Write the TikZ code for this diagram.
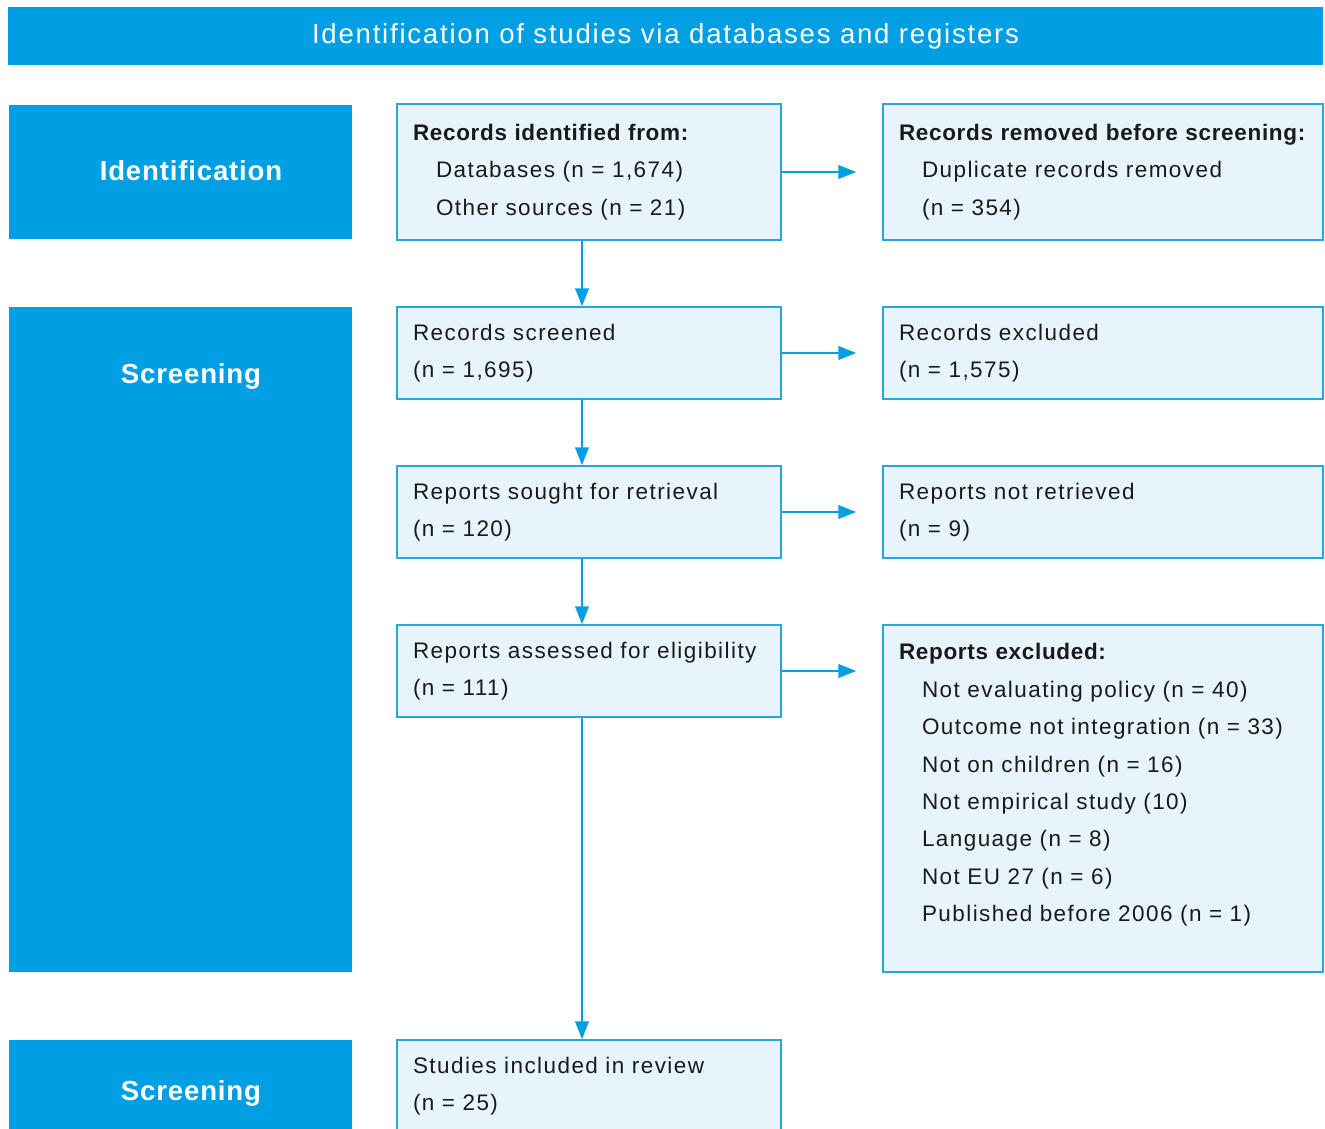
\documentclass[tikz,border=0pt]{standalone}
\usepackage{fontspec}
\setmainfont{Liberation Sans}[LetterSpace=6.4, BoldFeatures={LetterSpace=3}]
\usetikzlibrary{arrows.meta}

\definecolor{prismablue}{HTML}{009FE3}
\definecolor{boxfill}{HTML}{E8F4FC}
\definecolor{boxline}{HTML}{28A6E0}
\definecolor{ink}{HTML}{1A1A1A}

\tikzset{
  header/.style={fill=prismablue, text=white, minimum width=26.3cm, minimum height=1.16cm,
    font=\fontsize{15.7}{19}\selectfont},
  phase/.style={fill=prismablue, minimum width=6.86cm},
  phasetext/.style={text=white, font=\bfseries\fontsize{15.7}{18}\selectfont},
  midbox/.style={draw=boxline, line width=0.8pt, fill=boxfill, text=ink, minimum width=7.68cm,
    text width=7.04cm, inner xsep=0.32cm, align=left, font=\fontsize{12.8}{21.3}\selectfont},
  sidebox/.style={midbox, minimum width=8.8cm, text width=8.16cm},
  flow/.style={draw=prismablue, line width=1.4pt, -{Triangle[length=0.36cm,width=0.27cm]}}
}
\newcommand{\indentline}{\hspace*{0.46cm}}

\begin{document}
\begin{tikzpicture}

    \clip (0,0) rectangle (26.5,-22.58);
    \fill[white] (0,0) rectangle (26.5,-22.58);

    \node[header] (title) at (13.31,-0.72) {Identification of studies via databases and registers};

    % phases on the left
    \node[phase, minimum height=2.68cm] (idphase) at (3.61,-3.44) {};
    \node[phase, minimum height=13.3cm] (scrphase) at (3.61,-12.79) {};
    \node[phase, minimum height=2.0cm] (incphase) at (3.61,-21.8) {};
    \node[phasetext] (idlabel) at (3.82,-3.42) {Identification};
    \node[phasetext] (scrlabel) at (3.82,-7.52) {Screening};
    \node[phasetext] (inclabel) at (3.82,-21.86) {Screening};

    % main column
    \node[midbox, minimum height=2.72cm] (records) at (11.78,-3.44) {\textbf{Records identified from:}\\
        \indentline Databases (n = 1,674)\\
        \indentline Other sources (n = 21)};
    \node[midbox, minimum height=1.84cm] (screened) at (11.78,-7.06) {Records screened\\(n = 1,695)};
    \node[midbox, minimum height=1.84cm] (sought) at (11.78,-10.24) {Reports sought for retrieval\\(n = 120)};
    \node[midbox, minimum height=1.84cm] (assessed) at (11.78,-13.42) {Reports assessed for eligibility\\(n = 111)};
    \node[midbox, minimum height=1.84cm] (included) at (11.78,-21.72) {Studies included in review\\(n = 25)};

    % side column
    \node[sidebox, minimum height=2.72cm] (removed) at (22.06,-3.44) {\textbf{Records removed before screening:}\\
        \indentline Duplicate records removed\\
        \indentline (n = 354)};
    \node[sidebox, minimum height=1.84cm] (excluded) at (22.06,-7.06) {Records excluded\\(n = 1,575)};
    \node[sidebox, minimum height=1.84cm] (notretr) at (22.06,-10.24) {Reports not retrieved\\(n = 9)};
    \node[sidebox, minimum height=6.94cm] (repexcl) at (22.06,-15.97) {\parbox[t][6.2cm][t]{8.16cm}{%
        \textbf{Reports excluded:}\\
        \indentline Not evaluating policy (n = 40)\\
        \indentline Outcome not integration (n = 33)\\
        \indentline Not on children (n = 16)\\
        \indentline Not empirical study (10)\\
        \indentline Language (n = 8)\\
        \indentline Not EU 27 (n = 6)\\
        \indentline Published before 2006 (n = 1)}};

    \begin{scope}

        \draw[flow] ([xshift=-0.14cm]records.south) -- ([xshift=-0.14cm]screened.north);
        \draw[flow] ([xshift=-0.14cm]screened.south) -- ([xshift=-0.14cm]sought.north);
        \draw[flow] ([xshift=-0.14cm]sought.south) -- ([xshift=-0.14cm]assessed.north);
        \draw[flow] ([xshift=-0.14cm]assessed.south) -- ([xshift=-0.14cm]included.north);

        \draw[flow] (records.east) -- ([xshift=-0.52cm]records.east -| removed.west);
        \draw[flow] (screened.east) -- ([xshift=-0.52cm]screened.east -| excluded.west);
        \draw[flow] (sought.east) -- ([xshift=-0.52cm]sought.east -| notretr.west);
        \draw[flow] (assessed.east) -- ([xshift=-0.52cm]assessed.east -| repexcl.west);

    \end{scope}

\end{tikzpicture}
\end{document}
